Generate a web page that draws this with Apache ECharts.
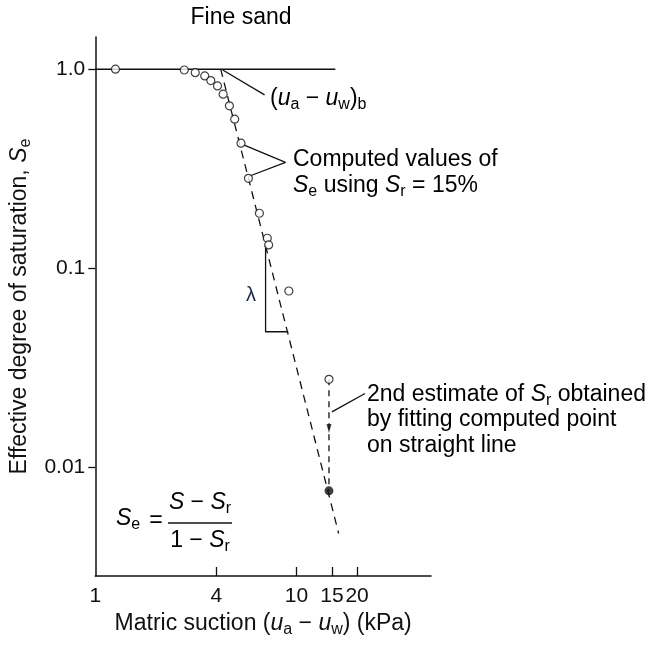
<!DOCTYPE html>
<html>
<head>
<meta charset="utf-8">
<script src="https://cdn.jsdelivr.net/npm/echarts@6/dist/echarts.min.js"></script>
<style>
  html, body { margin: 0; padding: 0; background: #fff; }
  #chart { width: 651px; height: 646px; }
</style>
</head>
<body>
<div id="chart"></div>
<script>
// measured points, matric suction (kPa) vs effective saturation
const openSuction = [1.26, 2.77, 3.14, 3.50, 3.75, 4.05, 4.32, 4.64, 4.93, 5.30, 5.77, 6.54, 7.16, 7.27, 9.16, 14.5];
const openSe = [1.0, 0.99, 0.96, 0.925, 0.876, 0.824, 0.749, 0.654, 0.561, 0.425, 0.283, 0.189, 0.1415, 0.131, 0.0769, 0.0277];

const fittedPoint = [14.5, 0.00763];
const fitLine = [[4.2, 1.0], [16.2, 0.00466]];
const saturatedLine = [[1, 1.0], [15.6, 1.0]];
const secondEstimate = [[14.5, 0.0277], [14.5, 0.00763]];
const arrowAt = [14.5, 0.0157];
const slopeTriangle = [[7.02, 0.131], [7.02, 0.048], [9.1, 0.048]];

const airEntryLeader = [[4.30, 0.99], [6.94, 0.743]];
const computedLeader = [[5.46, 0.417], [8.82, 0.340], [5.77, 0.289]];
const estimateLeader = [[15.0, 0.0190], [21.9, 0.0235]];

const xTicks = [4, 10, 15, 20];
const xLabels = [1, 4, 10, 15, 20];
const yTicks = [0.01, 0.1, 1];

const FONT = '"Liberation Sans", Arial, Helvetica, sans-serif';
const INK = '#111';

const rich = {
  n: { fontSize: 23, fontFamily: FONT, color: INK, lineHeight: 28, verticalAlign: 'middle' },
  i: { fontSize: 23, fontFamily: FONT, color: INK, lineHeight: 28, verticalAlign: 'middle', fontStyle: 'italic' },
  s: { fontSize: 16, fontFamily: FONT, color: INK, lineHeight: 28, verticalAlign: 'bottom' }
};

const label = (text, x, y, align) => ({
  type: 'text',
  style: {
    text, x, y, rich,
    textAlign: align || 'left',
    textVerticalAlign: 'middle'
  }
});

const thinLine = (data, extra) => Object.assign({
  type: 'line',
  data,
  symbol: 'none',
  silent: true,
  lineStyle: { color: INK, width: 1.3 }
}, extra || {});

const chart = echarts.init(document.getElementById('chart'));

chart.setOption({
  animation: false,
  backgroundColor: '#fff',
  grid: { left: 94, right: 220, top: 37, bottom: 70 },
  xAxis: {
    type: 'log',
    logBase: 10,
    min: 1,
    max: 46.6,
    name: '{n|Matric suction (}{i|u}{s|a}{n| − }{i|u}{s|w}{n|) (kPa)}',
    nameLocation: 'middle',
    nameGap: 34,
    nameTextStyle: { rich },
    axisLine: { lineStyle: { color: INK, width: 1.5 } },
    axisTick: {
      show: true,
      inside: true,
      length: 9,
      customValues: xTicks,
      lineStyle: { color: INK, width: 1.3 }
    },
    axisLabel: {
      customValues: xLabels,
      formatter: v => String(Math.round(v)),
      fontSize: 21,
      fontFamily: FONT,
      color: INK,
      margin: 10
    },
    splitLine: { show: false },
    minorTick: { show: false }
  },
  yAxis: {
    type: 'log',
    logBase: 10,
    min: 0.00285,
    max: 1.45,
    name: '{n|Effective degree of saturation, }{i|S}{s|e}',
    nameLocation: 'middle',
    nameRotate: 90,
    nameGap: 50,
    nameTextStyle: { rich },
    axisLine: { show: true, lineStyle: { color: INK, width: 1.5 } },
    axisTick: {
      show: true,
      length: 7,
      customValues: yTicks,
      lineStyle: { color: INK, width: 1.3 }
    },
    axisLabel: {
      customValues: yTicks,
      formatter: v => (Math.abs(v - 1) < 1e-6 ? '1.0' : String(+v.toPrecision(3))),
      fontSize: 21,
      fontFamily: FONT,
      color: INK,
      margin: 10
    },
    splitLine: { show: false }
  },
  series: [
    thinLine(saturatedLine, { lineStyle: { color: INK, width: 1.5 } }),
    thinLine(fitLine, { lineStyle: { color: INK, width: 1.3, type: [8, 6] } }),
    thinLine(secondEstimate, { lineStyle: { color: INK, width: 1.3, type: [6, 5] } }),
    thinLine(slopeTriangle),
    thinLine(airEntryLeader),
    thinLine(computedLeader),
    thinLine(estimateLeader),
    {
      type: 'scatter',
      data: [arrowAt],
      symbol: 'triangle',
      symbolRotate: 180,
      symbolSize: [5, 9],
      itemStyle: { color: INK },
      silent: true
    },
    {
      type: 'scatter',
      data: openSuction.map((x, k) => [x, openSe[k]]),
      symbol: 'circle',
      symbolSize: 8,
      itemStyle: { color: '#fff', borderColor: INK, borderWidth: 1.2 },
      z: 5
    },
    {
      type: 'scatter',
      data: [fittedPoint],
      symbol: 'circle',
      symbolSize: 9,
      itemStyle: { color: INK },
      z: 5
    }
  ],
  graphic: [
    label('{n|Fine sand}', 241, 18, 'center'),
    label('{n|(}{i|u}{s|a}{n| − }{i|u}{s|w}{n|)}{s|b}', 270, 99),
    label('{n|Computed values of}', 293, 160),
    label('{i|S}{s|e}{n| using }{i|S}{s|r}{n| = 15%}', 293, 186),
    label('{n|2nd estimate of }{i|S}{s|r}{n| obtained}', 367, 395),
    label('{n|by fitting computed point}', 367, 420),
    label('{n|on straight line}', 367, 446),
    {
      type: 'text',
      style: { text: 'λ', x: 251, y: 295, textAlign: 'center', textVerticalAlign: 'middle', fontSize: 20, fontFamily: FONT, fill: '#1d2747' }
    },
    label('{i|S}{s|e}', 116, 519),
    label('{n|=}', 156, 521, 'center'),
    label('{i|S}{n| − }{i|S}{s|r}', 200, 503, 'center'),
    {
      type: 'line',
      shape: { x1: 168, y1: 523, x2: 232, y2: 523 },
      style: { stroke: INK, lineWidth: 1.5 }
    },
    label('{n|1 − }{i|S}{s|r}', 200, 541, 'center')
  ]
});
</script>
</body>
</html>
